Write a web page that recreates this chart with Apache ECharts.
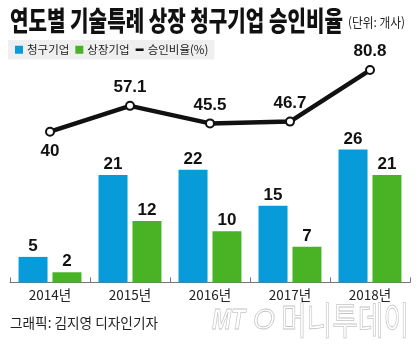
<!DOCTYPE html>
<html><head><meta charset="utf-8">
<script src="https://cdn.jsdelivr.net/npm/echarts@6/dist/echarts.min.js"></script>
<style>html,body{margin:0;padding:0;background:#fff}#c{width:420px;height:344px}</style>
</head><body><div id="c"></div>
<script>
const years = ['2014년','2015년','2016년','2017년','2018년'];
const applied = [5, 21, 22, 15, 26];
const listed = [2, 12, 10, 7, 21];
const approvalRate = [40, 57.1, 45.5, 46.7, 80.8];
const seriesNames = ['청구기업','상장기업','승인비율(%)'];
const titleText = '연도별 기술특례 상장 청구기업 승인비율';
const unitText = '(단위: 개사)';
const creditText = '그래픽: 김지영 디자인기자';

const KR = '"Noto Sans CJK KR", sans-serif';
const NUM = '"Liberation Sans", Arial, sans-serif';
const BLUE = '#079cd9', GREEN = '#4ab325';

const ctx = document.createElement('canvas').getContext('2d');
function fit(text, font, target){ ctx.font = font; return target / ctx.measureText(text).width; }
function gtext(text, font, x, y, target, extra){
  return Object.assign({type:'text', x:x, y:y, scaleX: fit(text, font, target),
    style:Object.assign({text:text, font:font, fill:'#111', verticalAlign:'middle', align:'left'}, extra||{})});
}

const chart = echarts.init(document.getElementById('c'), null, {renderer:'canvas'});
chart.setOption({
  animation:false,
  backgroundColor:'#fff',
  graphic:[
    gtext(titleText, '900 27px ' + KR, 10, 21, 333),
    gtext(unitText, '13px ' + KR, 348, 22, 57, {fill:'#222'}),
    gtext(creditText, '14px ' + KR, 10, 323, 148, {fill:'#222'}),
    gtext('MT', 'italic bold 30px "Liberation Sans", sans-serif', 212, 321, 33, {fill:'none', stroke:'#c4c4c4', lineWidth:0.8}),
    gtext('O', 'italic 30px "Liberation Sans", sans-serif', 253, 321, 22, {fill:'none', stroke:'#c4c4c4', lineWidth:0.8}),
    gtext('머니투데이', '38px ' + KR, 281, 320, 128, {fill:'none', stroke:'#c4c4c4', lineWidth:0.8})
  ],
  legend:{
    left:8, top:40, orient:'horizontal',
    backgroundColor:'#efefef', padding:[4,6,4,7],
    itemWidth:8, itemHeight:8, itemGap:6,
    textStyle:{fontFamily:KR, fontSize:11.5, color:'#222', padding:[0,0,0,-1]},
    data:[
      {name:seriesNames[0], icon:'rect'},
      {name:seriesNames[1], icon:'rect'},
      {name:seriesNames[2], icon:'path://M0,0H10V3.2H0Z', itemStyle:{color:'#111', borderWidth:0}}
    ]
  },
  grid:[
    {left:10, right:10, top:128.9, height:153.6},
    {left:10, right:10, top:41, height:151.2}
  ],
  xAxis:[
    {type:'category', gridIndex:0, data:years, boundaryGap:true,
      axisLine:{lineStyle:{color:'#777', width:1}},
      axisTick:{show:true, inside:true, length:5, lineStyle:{color:'#777'}},
      axisLabel:{fontFamily:KR, fontSize:13.5, color:'#222', margin:6}},
    {type:'category', gridIndex:1, data:years, show:false}
  ],
  yAxis:[
    {type:'value', gridIndex:0, min:0, max:30, show:false, splitLine:{show:false}},
    {type:'value', gridIndex:1, min:0, max:100, show:false, splitLine:{show:false}}
  ],
  series:[
    {name:seriesNames[0], type:'bar', data:applied, xAxisIndex:0, yAxisIndex:0,
      barWidth:29, barGap:'17%', itemStyle:{color:BLUE},
      label:{show:true, position:'top', distance:2, fontFamily:NUM, fontWeight:'bold', fontSize:17, color:'#111'}},
    {name:seriesNames[1], type:'bar', data:listed, xAxisIndex:0, yAxisIndex:0,
      barWidth:29, barGap:'17%', itemStyle:{color:GREEN},
      label:{show:true, position:'top', distance:2, fontFamily:NUM, fontWeight:'bold', fontSize:17, color:'#111'}},
    {name:seriesNames[2], type:'line', data:approvalRate.map((v,i)=> i===0 ? {value:v, label:{position:'bottom', distance:6}} : v),
      xAxisIndex:1, yAxisIndex:1, z:5,
      symbol:'circle', symbolSize:8, showAllSymbol:true,
      lineStyle:{color:'#111', width:4.5},
      itemStyle:{color:'#fff', borderColor:'#111', borderWidth:2},
      label:{show:true, position:'top', distance:5, fontFamily:NUM, fontWeight:'bold', fontSize:17, color:'#111'}}
  ]
});
</script></body></html>
